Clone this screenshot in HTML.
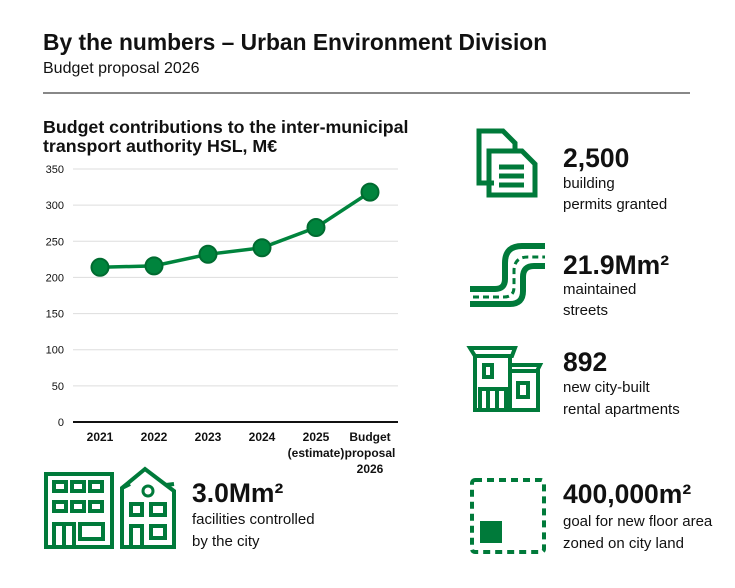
<!DOCTYPE html>
<html><head><meta charset="utf-8"><style>
html,body{margin:0;padding:0;background:#fff;width:735px;height:588px;overflow:hidden}
svg{display:block;font-family:"Liberation Sans",sans-serif}
</style></head><body>
<svg id="s" width="735" height="588" viewBox="0 0 735 588">
<text x="43" y="50" font-size="22.8" font-weight="bold" fill="#111">By the numbers – Urban Environment Division</text>
<text x="43" y="73" font-size="16" fill="#111">Budget proposal 2026</text>
<line x1="43" y1="93" x2="690" y2="93" stroke="#888" stroke-width="2"/>
<text x="43" y="133" font-size="17.8" font-weight="bold" fill="#111">Budget contributions to the inter-municipal</text>
<text x="43" y="152" font-size="17.8" font-weight="bold" fill="#111">transport authority HSL, M€</text>
<g id="chart"></g>

<g fill="none" stroke="#007a3a" stroke-width="5">
<path d="M494 183 H479 V131 H503 L515 143 V150"/>
<path d="M489 151 H522 L535 164 V195 H489 Z"/>
<path d="M499 167h25M499 176h25M499 185h25"/>
</g>
<text x="563" y="167" font-size="26.5" font-weight="bold" fill="#111">2,500</text>
<text x="563" y="188" font-size="15" fill="#111">building</text>
<text x="563" y="209" font-size="15" fill="#111">permits granted</text>

<g fill="none" stroke="#007a3a">
<path d="M470 289 H495 Q505 289 505 279 V263 Q505 246 522 246 H545" stroke-width="6"/>
<path d="M470 304 H510 Q523 304 523 291 V277 Q523 266 534 266 H545" stroke-width="6"/>
<path d="M473 297 H504 Q514 297 514 287 V271 Q514 257 528 257 H545" stroke-width="3" stroke-dasharray="6 4"/>
</g>
<text x="563" y="274" font-size="26.5" font-weight="bold" fill="#111">21.9Mm²</text>
<text x="563" y="294" font-size="15" fill="#111">maintained</text>
<text x="563" y="315" font-size="15" fill="#111">streets</text>

<g fill="none" stroke="#007a3a" stroke-width="4">
<path d="M470 348 H515 L512 356 H475 Z"/>
<path d="M475 356 V410 H538 V371 H510"/>
<path d="M510 356 V410"/>
<path d="M508 365 H540 L537 371"/>
<rect x="484" y="365" width="8" height="12"/><rect x="518" y="383" width="10" height="14"/>
<path d="M480 410 V389 H506 V410 M488 389 V410 M497 389 V410"/>
</g>
<text x="563" y="371" font-size="26.5" font-weight="bold" fill="#111">892</text>
<text x="563" y="392" font-size="15" fill="#111">new city-built</text>
<text x="563" y="414" font-size="15" fill="#111">rental apartments</text>

<g>
<rect x="472" y="480" width="72" height="72" fill="none" stroke="#007a3a" stroke-width="4" stroke-dasharray="7 5" rx="3"/>
<rect x="480" y="521" width="22" height="22" fill="#007a3a"/>
</g>
<text x="563" y="503" font-size="26.5" font-weight="bold" fill="#111">400,000m²</text>
<text x="563" y="526" font-size="15" fill="#111">goal for new floor area</text>
<text x="563" y="548" font-size="15" fill="#111">zoned on city land</text>

<g fill="none" stroke="#007a3a" stroke-width="4">
<rect x="46" y="474" width="66" height="73"/>
<rect x="54" y="482" width="12" height="9"/><rect x="72" y="482" width="12" height="9"/><rect x="90" y="482" width="12" height="9"/>
<rect x="54" y="502" width="12" height="9"/><rect x="72" y="502" width="12" height="9"/><rect x="90" y="502" width="12" height="9"/>
<path d="M54 547 V524 H74 V547 M64 524 V547"/><rect x="80" y="524" width="23" height="15"/>
<path d="M122 547 V488 L145 469 L166 485 L174 491 V547 Z M122 488 L130 484 M166 485 L174 484"/>
<circle cx="148" cy="491" r="5" stroke-width="3"/>
<rect x="131" y="504" width="11" height="11"/><rect x="151" y="504" width="14" height="11"/>
<path d="M131 547 V526 H142 V547"/><rect x="151" y="526" width="14" height="12"/>
</g>
<text x="192" y="502" font-size="26.5" font-weight="bold" fill="#111">3.0Mm²</text>
<text x="192" y="524" font-size="15" fill="#111">facilities controlled</text>
<text x="192" y="546" font-size="15" fill="#111">by the city</text>
</svg>
<script>
const categories = [["2021"],["2022"],["2023"],["2024"],["2025","(estimate)"],["Budget","proposal","2026"]];
const values = [214, 216, 232, 241, 269, 318];
const yTicks = [0, 50, 100, 150, 200, 250, 300, 350];
const NS = "http://www.w3.org/2000/svg";
const g = document.getElementById("chart");
const x = i => 100 + i * 54;
const y = v => 422 - v * (253 / 350);
function mk(t, a) { const e = document.createElementNS(NS, t); for (const k in a) e.setAttribute(k, a[k]); g.appendChild(e); return e; }
yTicks.forEach(v => {
  const l = mk("line", {x1: 73, x2: 398, y1: y(v), y2: y(v), stroke: v === 0 ? "#111" : "#ddd", "stroke-width": v === 0 ? 2 : 1});
  
  
  const t = mk("text", {x: 64, y: y(v) + 4, "text-anchor": "end", "font-size": 11, fill: "#111"});
  t.textContent = v;
  
  
});
categories.forEach((c, i) => {
  c.forEach((s, j) => {
    const t = mk("text", {x: x(i), y: 441 + j * 16, "text-anchor": "middle", "font-size": 12, "font-weight": "bold", fill: "#111"});
    t.textContent = s;
    
    
  });
});
const p = mk("polyline", {points: values.map((v, i) => x(i) + "," + y(v)).join(" "), fill: "none", stroke: "#00843d", "stroke-width": 3.5});


values.forEach((v, i) => {
  const c = mk("circle", {cx: x(i), cy: y(v), r: 8.5, fill: "#00843d", stroke: "#006b30", "stroke-width": 2});
  
  
});
</script>
</body></html>
